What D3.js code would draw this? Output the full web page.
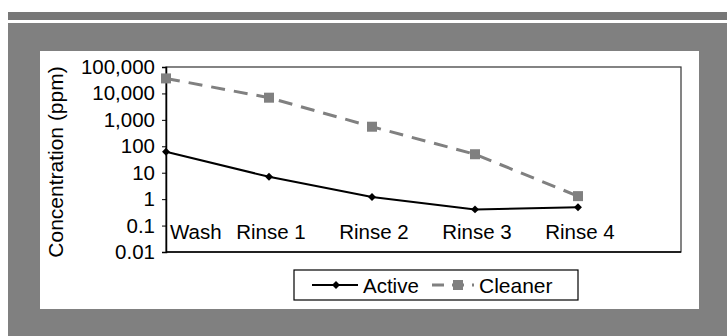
<!DOCTYPE html>
<html>
<head>
<meta charset="utf-8">
<script src="https://cdn.jsdelivr.net/npm/d3@7"></script>
<style>
  html, body { margin: 0; padding: 0; background: #fff; }
  svg text { font-family: "Liberation Sans", Arial, sans-serif; fill: #000; }
</style>
</head>
<body>
<div id="chart"></div>
<script>
var categories = ["Wash", "Rinse 1", "Rinse 2", "Rinse 3", "Rinse 4"];
var activeValues = [62, 7, 1.2, 0.41, 0.49];
var cleanerValues = [37000, 6900, 550, 50, 1.3];
var yTicks = [0.01, 0.1, 1, 10, 100, 1000, 10000, 100000];
var seriesNames = ["Active", "Cleaner"];

var width = 727, height = 336;
var plot = { left: 166, right: 681, top: 67, bottom: 252 };

var svg = d3.select("#chart")
    .append("svg")
    .attr("width", width)
    .attr("height", height);

// frame bands
svg.append("rect").attr("x", 8).attr("y", 12).attr("width", width - 8).attr("height", 8).attr("fill", "#777777");
svg.append("rect").attr("x", 8).attr("y", 23).attr("width", width - 8).attr("height", height - 23).attr("fill", "#808080");
svg.append("rect").attr("x", 40).attr("y", 51).attr("width", 659).attr("height", 258).attr("fill", "#ffffff");

var x = d3.scaleLinear()
    .domain([0, categories.length])
    .range([plot.left, plot.right]);

var y = d3.scaleLog()
    .domain([0.01, 100000])
    .range([plot.bottom, plot.top]);

// plot box
svg.append("rect")
    .attr("x", plot.left)
    .attr("y", plot.top)
    .attr("width", plot.right - plot.left)
    .attr("height", plot.bottom - plot.top)
    .attr("fill", "none")
    .attr("stroke", "#333")
    .attr("stroke-width", 1.2);

var fmt = function(d) { return d >= 1 ? d3.format(",")(d) : String(d); };

var yAxis = svg.append("g")
    .attr("transform", "translate(" + plot.left + ",0)")
    .call(d3.axisLeft(y).tickValues(yTicks).tickFormat(fmt).tickSize(4).tickPadding(7));
yAxis.select(".domain").attr("stroke", "#000").attr("stroke-width", 1.5);
yAxis.selectAll(".tick line").attr("stroke", "#000");
yAxis.selectAll("text").attr("font-size", 20.5).attr("font-family", "Liberation Sans, Arial, sans-serif");

// bottom axis line
svg.append("line")
    .attr("x1", plot.left).attr("x2", plot.right)
    .attr("y1", plot.bottom).attr("y2", plot.bottom)
    .attr("stroke", "#000").attr("stroke-width", 1.5);

// category labels
svg.selectAll(".cat")
    .data(categories)
    .enter().append("text")
    .attr("class", "cat")
    .attr("x", function(d, i) { return i === 0 ? x(0) + 4 : x(i) + 2; })
    .attr("y", 238.5)
    .attr("text-anchor", function(d, i) { return i === 0 ? "start" : "middle"; })
    .attr("font-size", 20.5)
    .text(function(d) { return d; });

// y axis title
svg.append("text")
    .attr("transform", "translate(63,162) rotate(-90)")
    .attr("text-anchor", "middle")
    .attr("font-size", 21)
    .text("Concentration (ppm)");

var line = d3.line()
    .x(function(d, i) { return x(i); })
    .y(function(d) { return y(d); });

// Cleaner series
svg.append("path")
    .datum(cleanerValues)
    .attr("d", line)
    .attr("fill", "none")
    .attr("stroke", "#808080")
    .attr("stroke-width", 3)
    .attr("stroke-dasharray", "14,9");

svg.selectAll(".sq")
    .data(cleanerValues)
    .enter().append("rect")
    .attr("class", "sq")
    .attr("x", function(d, i) { return x(i) - 5; })
    .attr("y", function(d) { return y(d) - 5; })
    .attr("width", 10).attr("height", 10)
    .attr("fill", "#808080");

// Active series
svg.append("path")
    .datum(activeValues)
    .attr("d", line)
    .attr("fill", "none")
    .attr("stroke", "#000")
    .attr("stroke-width", 2);

var diamond = d3.symbol().type(d3.symbolDiamond2).size(40);
svg.selectAll(".dm")
    .data(activeValues)
    .enter().append("path")
    .attr("class", "dm")
    .attr("d", diamond)
    .attr("transform", function(d, i) { return "translate(" + x(i) + "," + y(d) + ")"; })
    .attr("fill", "#000");

// legend
var legend = svg.append("g");
legend.append("rect")
    .attr("x", 294).attr("y", 270)
    .attr("width", 284).attr("height", 30)
    .attr("fill", "#fff")
    .attr("stroke", "#000").attr("stroke-width", 1.2);

legend.append("line")
    .attr("x1", 312).attr("x2", 358).attr("y1", 285).attr("y2", 285)
    .attr("stroke", "#000").attr("stroke-width", 2);
legend.append("path")
    .attr("d", diamond)
    .attr("transform", "translate(336,285)")
    .attr("fill", "#000");
legend.append("text")
    .attr("x", 363).attr("y", 292.5)
    .attr("font-size", 20.5)
    .text(seriesNames[0]);

legend.append("line")
    .attr("x1", 432).attr("x2", 474).attr("y1", 285).attr("y2", 285)
    .attr("stroke", "#808080").attr("stroke-width", 3)
    .attr("stroke-dasharray", "12,8");
legend.append("rect")
    .attr("x", 453).attr("y", 280)
    .attr("width", 10).attr("height", 10)
    .attr("fill", "#808080");
legend.append("text")
    .attr("x", 479).attr("y", 292.5)
    .attr("font-size", 21)
    .text(seriesNames[1]);
</script>
</body>
</html>
